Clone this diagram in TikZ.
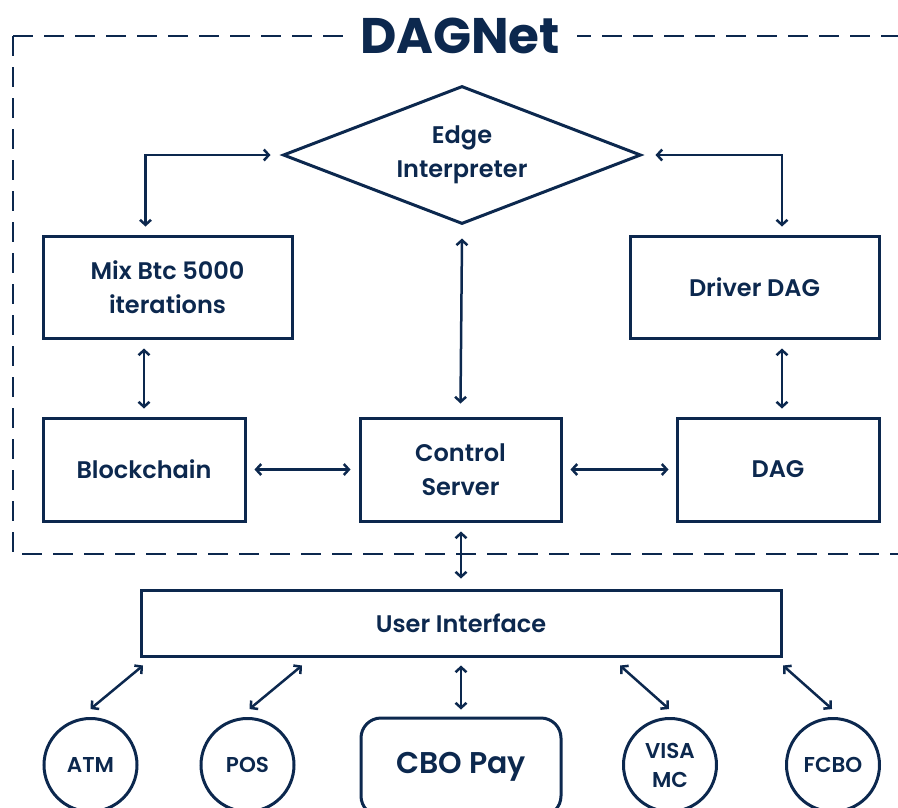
\documentclass[tikz,border=0pt]{standalone}
\usepackage{fontspec}
\setmainfont{Poppins}[UprightFont={* SemiBold},BoldFont={* Bold}]
\usetikzlibrary{shapes.geometric,arrows.meta,calc}
\definecolor{navy}{RGB}{12,40,78}
\begin{document}
\begin{tikzpicture}[x=1pt,y=-1pt,
  every node/.style={text=navy},
  box/.style={draw=navy,line width=3pt,inner sep=0pt,align=center,font=\fontsize{24}{34}\selectfont},
  dia/.style={diamond,draw=navy,line width=3pt,inner sep=0pt,shape aspect=2.594,minimum width=358pt,minimum height=138pt,align=center,font=\fontsize{24}{34}\selectfont},
  circ/.style={circle,draw=navy,line width=3pt,inner sep=0pt,minimum size=93pt,align=center,font=\fontsize{21.5}{29}\selectfont},
  link/.style={draw=navy,line width=2.5pt,{Straight Barb[length=5pt,width=11pt]}-{Straight Barb[length=5pt,width=11pt]}},
  frame/.style={draw=navy,line width=2.6pt,dash pattern=on 20pt off 11pt}
]
\useasboundingbox (0,0) rectangle (898,807);
\clip (0,0) rectangle (898,807);

% dashed frame
\draw[frame] (13,36) -- (898,36);
\draw[frame] (13,36) -- (13,554) -- (898,554);
\node[fill=white,inner xsep=17pt,inner ysep=2pt,font=\fontsize{50}{50}\selectfont\bfseries] (title) at (460,36) {DAGNet};

% nodes
\node[dia] (ei) at (462,155) {Edge\\Interpreter};
\node[box,minimum width=249pt,minimum height=102pt] (mix) at (167.5,287) {Mix Btc 5000\\iterations};
\node[box,minimum width=249pt,minimum height=102pt] (drv) at (754.5,287) {Driver DAG};
\node[box,minimum width=202pt,minimum height=103pt] (bc) at (144,469.5) {Blockchain};
\node[box,minimum width=201pt,minimum height=103pt] (cs) at (460.5,469.5) {Control\\Server};
\node[box,minimum width=202pt,minimum height=103pt] (dag) at (778,469.5) {DAG};
\node[box,minimum width=640pt,minimum height=66pt] (ui) at (461,623) {User Interface};

\node[circ] (atm) at (90.5,765) {ATM};
\node[circ] (pos) at (247.5,765) {POS};
\node[box,rounded corners=20pt,minimum width=200pt,minimum height=98pt,font=\fontsize{30}{36}\selectfont] (cbo) at (461,767) {CBO Pay};
\node[circ] (visa) at (670,765) {VISA\\MC};
\node[circ] (fcbo) at (833,765) {FCBO};

% connectors
\draw[link] ($(ei.west)+(-11,0)$) -| ($(mix.north)+(-22,-8)$);
\draw[link] ($(ei.east)+(13,0)$) -| ($(drv.north)+(27.5,-8)$);
\draw[link] ($(ei.south)+(0,13)$) -- ($(cs.north)+(0,-13)$);
\draw[link] ($(bc.north |- mix.south)+(0,9)$) -- ($(bc.north)+(0,-8)$);
\draw[link] ($(drv.south)+(27.5,9)$) -- ($(dag.north)+(4,-8)$);
\draw[link] ($(bc.east)+(8,0)$) -- ($(cs.west)+(-8,0)$);
\draw[link] ($(cs.east)+(8,0)$) -- ($(dag.west)+(-7,0)$);
\draw[link] ($(cs.south)+(0.5,9)$) -- ($(ui.north)+(0,-10)$);

\draw[link] ($(ui.south)+(-318,8)$) -- ($(atm.north)+(0,-8)$);
\draw[link] ($(ui.south)+(-159,8)$) -- ($(pos.north)+(2,-8)$);
\draw[link] ($(ui.south)+(0,8)$) -- ($(cbo.north)+(0,-7)$);
\draw[link] ($(ui.south)+(159,8)$) -- ($(visa.north)+(-1,-8)$);
\draw[link] ($(ui.south)+(322,8)$) -- ($(fcbo.north)+(-1,-8)$);
\end{tikzpicture}
\end{document}
